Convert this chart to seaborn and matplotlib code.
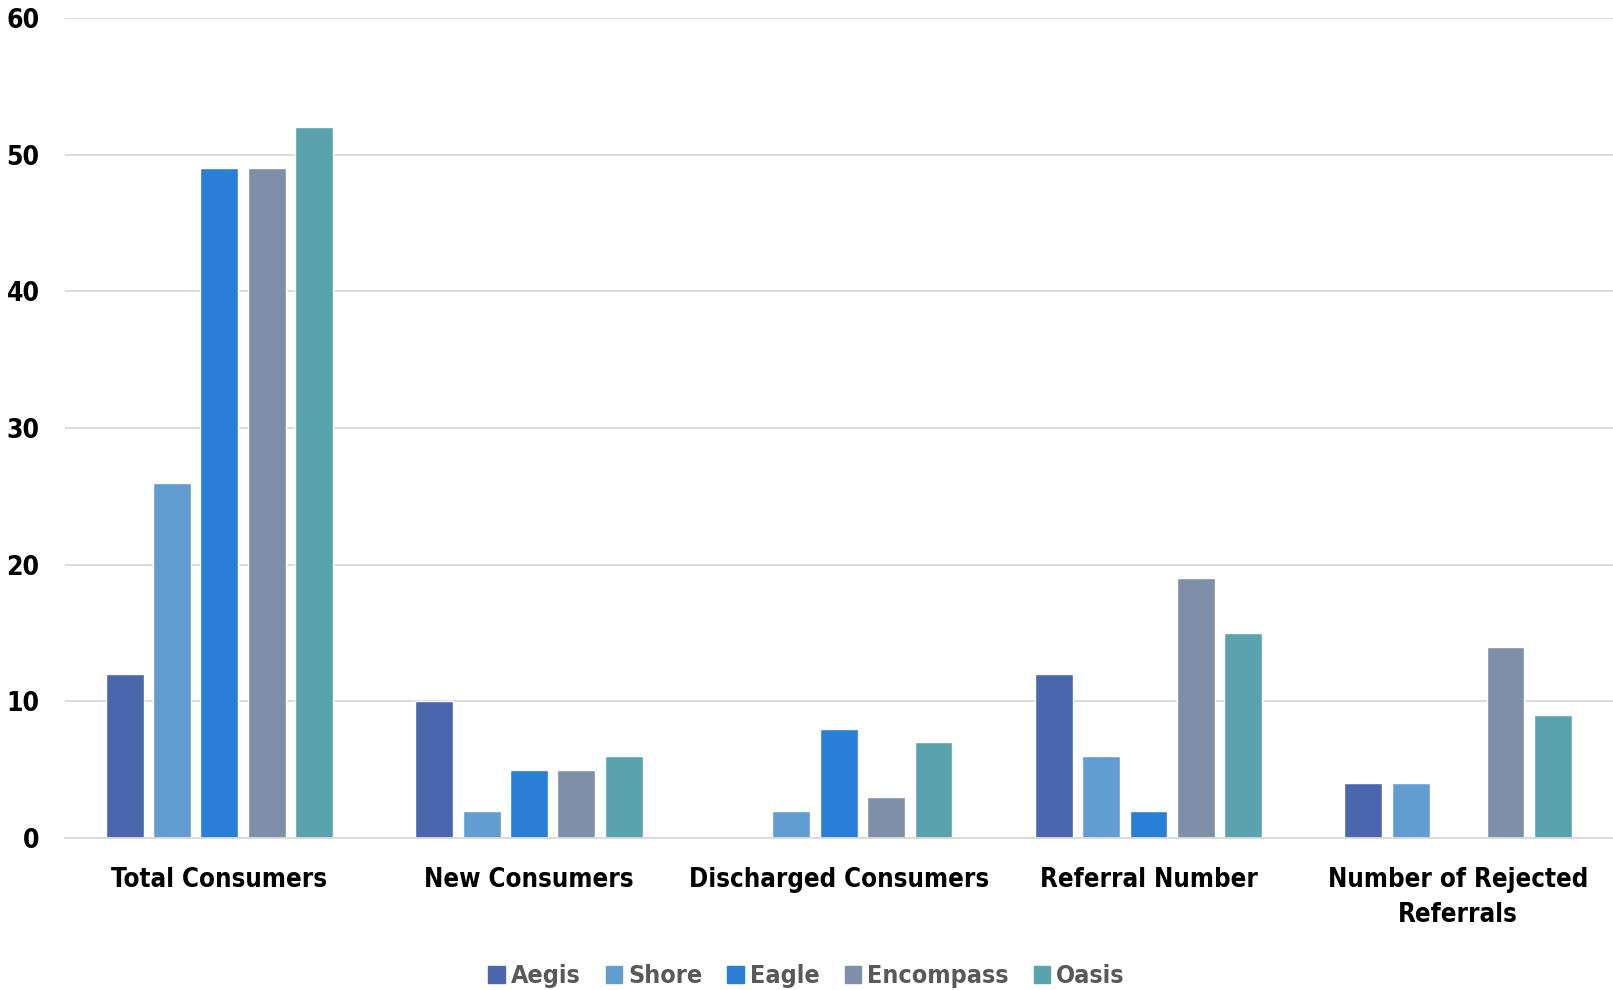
import matplotlib
matplotlib.use("Agg")
import matplotlib.pyplot as plt
import seaborn as sns
import pandas as pd

categories = ["Total Consumers", "New Consumers", "Discharged Consumers",
              "Referral Number", "Number of Rejected\nReferrals"]
series = ["Aegis", "Shore", "Eagle", "Encompass", "Oasis"]
aegis = [12, 10, 0, 12, 4]
shore = [26, 2, 2, 6, 4]
eagle = [49, 5, 8, 2, 0]
encompass = [49, 5, 3, 19, 14]
oasis = [52, 6, 7, 15, 9]
colors = ["#4A66AC", "#629DD1", "#297FD5", "#7F8FA9", "#5AA2AE"]
yticks = [0, 10, 20, 30, 40, 50, 60]

rows = []
for name, vals in zip(series, [aegis, shore, eagle, encompass, oasis]):
    for c, v in zip(categories, vals):
        rows.append({"category": c, "series": name, "value": v})
df = pd.DataFrame(rows)

sns.set_theme(style="white")
plt.rcParams["font.family"] = ["DejaVu Sans"]
plt.rcParams["font.stretch"] = "condensed"

fig = plt.figure(figsize=(16.13, 9.9), dpi=100)
ax = fig.add_axes([0.040, 0.1535, 0.960, 0.8285])

sns.barplot(data=df, x="category", y="value", hue="series", order=categories,
            hue_order=series, palette=colors, width=0.765, gap=0.2,
            saturation=1, ax=ax, legend=True)

ax.set_xlim(-0.5, 4.5)
ax.set_ylim(0, 60)
ax.set_yticks(yticks)
ax.yaxis.grid(True, color="#D9D9D9", linewidth=1.3)
ax.set_axisbelow(True)
for s in ["top", "right", "left"]:
    ax.spines[s].set_visible(False)
ax.spines["bottom"].set_color("#D9D9D9")
ax.spines["bottom"].set_linewidth(1.3)
ax.set_xlabel("")
ax.set_ylabel("")
ax.tick_params(axis="y", length=0, pad=18, labelsize=19, labelcolor="black")
ax.tick_params(axis="x", length=0, pad=21, labelsize=18.5, labelcolor="black")
for lab in ax.get_yticklabels():
    lab.set_fontweight("bold")
    lab.set_fontstretch("condensed")
ax.set_xticks(range(len(categories)))
ax.set_xticklabels(categories, fontweight="bold", fontstretch="condensed",
                   linespacing=1.45)

ax.get_legend().remove()
handles = [plt.Rectangle((0, 0), 1, 1, color=c) for c in colors]
leg = fig.legend(handles, series, loc="center", bbox_to_anchor=(0.5, 0.014),
                 ncol=5, frameon=False, handlelength=0.65, handleheight=0.65,
                 handletextpad=0.25, columnspacing=1.0,
                 prop={"size": 18, "weight": "bold", "stretch": "condensed"})
for t in leg.get_texts():
    t.set_color("#595959")

fig.savefig("out.png", dpi=100)
